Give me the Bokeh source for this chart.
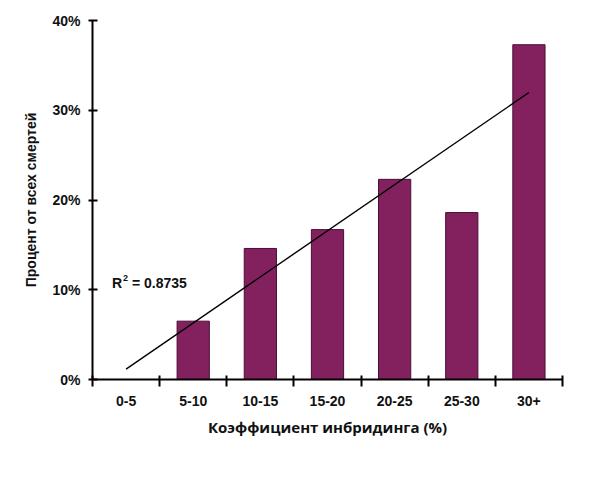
import numpy as np
from bokeh.plotting import figure
from bokeh.models import ColumnDataSource, FixedTicker, NumeralTickFormatter, Range1d, Label
from bokeh.embed import file_html
from bokeh.resources import INLINE

categories = ["0-5", "5-10", "10-15", "15-20", "20-25", "25-30", "30+"]
share = [0.0, 0.065, 0.146, 0.167, 0.223, 0.186, 0.373]
y_ticks = [0.0, 0.1, 0.2, 0.3, 0.4]
r2_value = "= 0.8735"

xs = [i + 0.5 for i in range(len(categories))]
src = ColumnDataSource(dict(x=xs, top=share, cat=categories))

p = figure(width=580, height=460, output_backend="svg", toolbar_location=None,
           x_range=Range1d(0, len(categories)), y_range=Range1d(0, 0.4),
           min_border_left=92, min_border_right=18, min_border_top=20, min_border_bottom=81)
p.outline_line_color = None
p.grid.visible = False
p.background_fill_color = "white"

p.vbar(x="x", top="top", width=0.48, bottom=0, source=src,
       fill_color="#83215f", line_color="#4a0d35", line_width=1)

# linear trend line over category index
coef = np.polyfit(np.arange(len(categories)), share, 1)
tx = [xs[0], xs[-1]]
ty = [coef[1], coef[1] + coef[0] * (len(categories) - 1)]
p.line(tx, ty, line_color="black", line_width=1.4)

lab_kw = dict(text_font="Liberation Sans", text_font_style="bold",
              text_baseline="middle", text_align="left", text_color="#111111")
p.add_layout(Label(x=0.29, y=0.107, text="R", text_font_size="14px", **lab_kw))
p.add_layout(Label(x=0.29, y=0.107, x_offset=11, y_offset=5, text="2",
                   text_font_size="9px", **lab_kw))
p.add_layout(Label(x=0.29, y=0.107, x_offset=20, text=r2_value,
                   text_font_size="14px", **lab_kw))

# x axis
xa = p.xaxis[0]
xa.ticker = FixedTicker(ticks=xs, minor_ticks=list(range(len(categories) + 1)))
xa.major_label_overrides = {x: c for x, c in zip(xs, categories)}
xa.major_tick_in = 0
xa.major_tick_out = 0
xa.minor_tick_in = 4
xa.minor_tick_out = 7
xa.minor_tick_line_color = "black"
xa.minor_tick_line_width = 2
xa.axis_line_width = 2
xa.axis_line_color = "black"
xa.major_label_text_font = "Liberation Sans"
xa.major_label_text_font_style = "bold"
xa.major_label_text_font_size = "14px"
xa.major_label_text_color = "#111111"
xa.major_label_standoff = 9
xa.axis_label = "Коэффициент инбридинга (%)"
xa.axis_label_text_font = "Open Sans"
xa.axis_label_text_font_style = "bold"
xa.axis_label_text_font_size = "15px"
xa.axis_label_text_color = "#111111"
xa.axis_label_standoff = 8

# y axis
ya = p.yaxis[0]
ya.ticker = FixedTicker(ticks=y_ticks, minor_ticks=[])
ya.formatter = NumeralTickFormatter(format="0%")
ya.major_tick_in = 5
ya.major_tick_out = 4
ya.major_tick_line_width = 2
ya.major_tick_line_color = "black"
ya.axis_line_width = 2
ya.axis_line_color = "black"
ya.major_label_text_font = "Liberation Sans"
ya.major_label_text_font_style = "bold"
ya.major_label_text_font_size = "14px"
ya.major_label_text_color = "#111111"
ya.major_label_standoff = 8
ya.axis_label = "Процент от всех смертей"
ya.axis_label_text_font = "Liberation Sans"
ya.axis_label_text_font_style = "bold"
ya.axis_label_text_font_size = "14px"
ya.axis_label_text_color = "#111111"
ya.axis_label_standoff = 10

open("out.html", "w").write(file_html(p, INLINE))
